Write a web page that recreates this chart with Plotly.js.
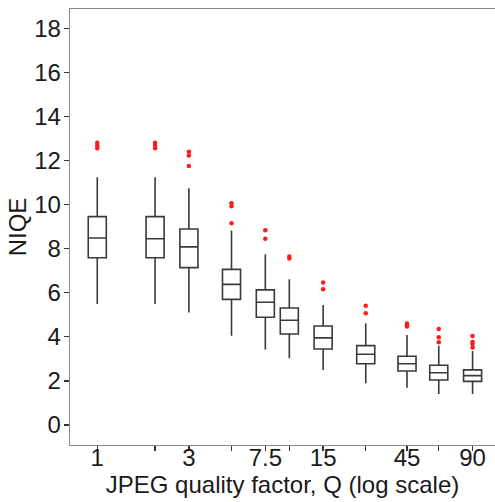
<!DOCTYPE html>
<html>
<head>
<meta charset="utf-8">
<script src="https://cdn.plot.ly/plotly-3.0.1.min.js"></script>
<style>html,body{margin:0;padding:0;background:#fff}#chart{width:495px;height:502px}</style>
</head>
<body>
<div id="chart"></div>
<script>
// JPEG quality factor positions (as drawn on the log axis)
var quality = [1, 2, 3, 5, 7.5, 10, 15, 25, 41, 60, 90];
var tickLabels = ['1', '', '3', '', '7.5', '', '15', '', '45', '', '90'];
// NIQE box statistics per quality factor
var lowerWhisker = [5.49, 5.49, 5.10, 4.05, 3.43, 3.03, 2.50, 1.89, 1.69, 1.41, 1.41];
var q1Vals       = [7.59, 7.59, 7.14, 5.70, 4.89, 4.13, 3.45, 2.78, 2.45, 2.04, 1.98];
var medianVals   = [8.48, 8.45, 8.08, 6.38, 5.57, 4.75, 3.95, 3.21, 2.78, 2.37, 2.24];
var q3Vals       = [9.45, 9.45, 8.89, 7.06, 6.13, 5.31, 4.49, 3.60, 3.12, 2.71, 2.50];
var upperWhisker = [11.24, 11.24, 10.74, 8.82, 7.74, 6.61, 5.44, 4.61, 4.08, 3.60, 3.36];
var outliers = [
  [12.80, 12.68, 12.55],
  [12.80, 12.68, 12.55],
  [12.40, 12.22, 11.75],
  [10.06, 9.92, 9.15],
  [8.83, 8.45],
  [7.64, 7.55],
  [6.46, 6.16],
  [5.41, 5.07],
  [4.60, 4.53, 4.47],
  [4.36, 3.98, 3.75],
  [4.04, 3.77, 3.68, 3.51]
];

var xPos = quality.map(function (q) { return Math.log10(q); });
var outX = [], outY = [];
outliers.forEach(function (arr, i) {
  arr.forEach(function (v) { outX.push(xPos[i]); outY.push(v); });
});

var fontFam = 'Liberation Sans, Arial, Helvetica, sans-serif';

var traces = [
  {
    type: 'box',
    x: xPos,
    lowerfence: lowerWhisker,
    q1: q1Vals,
    median: medianVals,
    q3: q3Vals,
    upperfence: upperWhisker,
    width: 0.094,
    boxpoints: false,
    whiskerwidth: 0,
    fillcolor: 'rgba(255,255,255,0)',
    line: {color: '#3a3a3a', width: 1.6},
    hoverinfo: 'skip',
    showlegend: false
  },
  {
    type: 'scatter',
    mode: 'markers',
    x: outX,
    y: outY,
    marker: {color: '#ff1a1a', size: 4.5},
    hoverinfo: 'skip',
    showlegend: false
  }
];

var layout = {
  width: 495,
  height: 502,
  margin: {l: 70, r: 0, t: 9, b: 57},
  paper_bgcolor: '#ffffff',
  plot_bgcolor: '#ffffff',
  font: {family: fontFam, size: 24, color: '#1a1a1a'},
  xaxis: {
    range: [-0.142, 2.071],
    tickmode: 'array',
    tickvals: xPos,
    ticktext: tickLabels,
    ticks: 'outside',
    ticklen: 5,
    tickwidth: 1.3,
    tickcolor: '#333',
    ticklabelstandoff: -14,
    showgrid: false,
    zeroline: false,
    showline: true,
    linecolor: '#888',
    linewidth: 1.3,
    mirror: true,
    tickfont: {size: 24, family: fontFam},
    title: {text: 'JPEG quality factor, Q (log scale)', font: {size: 24, family: fontFam}, standoff: 0}
  },
  yaxis: {
    range: [-0.907, 18.87],
    tickmode: 'linear',
    tick0: 0,
    dtick: 2,
    ticks: 'outside',
    ticklen: 5,
    tickwidth: 1.3,
    tickcolor: '#333',
    ticklabelstandoff: -2,
    showgrid: false,
    zeroline: false,
    showline: true,
    linecolor: '#888',
    linewidth: 1.3,
    tickfont: {size: 24, family: fontFam},
    title: {text: 'NIQE', font: {size: 24, family: fontFam}, standoff: 0}
  }
};

Plotly.newPlot('chart', traces, layout, {staticPlot: true, displayModeBar: false});
</script>
</body>
</html>
